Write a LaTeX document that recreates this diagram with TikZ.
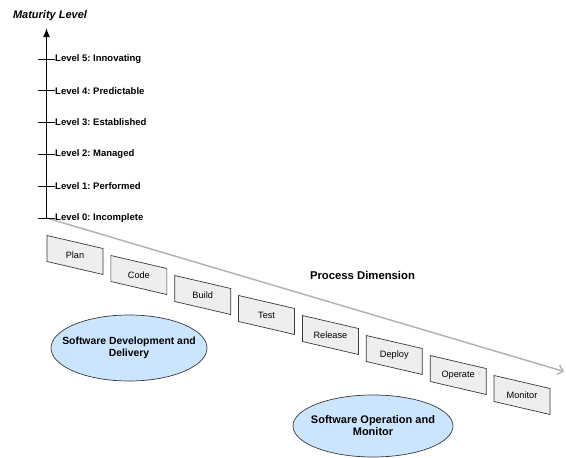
\documentclass[tikz,border=0pt]{standalone}
\usepackage{fontspec}
\setmainfont{Liberation Sans}
\usetikzlibrary{arrows.meta,calc,shapes.geometric}
\definecolor{boxfill}{HTML}{EEEEEE}
\definecolor{boxline}{HTML}{36393D}
\definecolor{blobfill}{HTML}{CCE5FF}
\definecolor{axisgray}{HTML}{B3B3B3}
\frenchspacing

\begin{document}
\begin{tikzpicture}[x=1pt, y=-1pt, >=Latex, font=\fontsize{9.5}{11}\selectfont\bfseries]
  \useasboundingbox (0,0) rectangle (566,458);
  \tikzset{
    stepbox/.style={fill=boxfill, draw=boxline, line width=0.7pt},
    steplabel/.style={font=\fontsize{9.2}{10}\selectfont, inner sep=0pt},
    blob/.style={ellipse, fill=blobfill, draw=boxline, line width=0.7pt, align=center,
      inner xsep=-12pt, inner ysep=0pt, minimum width=156pt, minimum height=66pt}
  }
  \coordinate (O) at (46.5,218);
  \coordinate (Ytop) at (46.5,28);
  \coordinate (Xend) at (564,371.5);

  % process dimension
  \draw[axisgray, line width=1.5pt, -{Straight Barb[length=5pt,width=10pt]}] (O) -- (Xend);
  % maturity axis
  \draw[line width=1.5pt, -{Latex[length=9pt,width=7pt]}] (O) -- (Ytop);

  \foreach \lvl/\txt in {0/Incomplete,1/Performed,2/Managed,3/Established,4/Predictable,5/Innovating} {
    \node[anchor=west, inner sep=0pt] (level\lvl) at (55,218-31.8*\lvl) {Level \lvl: \txt};
    \draw[line width=1pt] (level\lvl.west) -- ++(-17,0);
  }

  \node[font=\fontsize{11}{13}\selectfont\bfseries\itshape] (maturity) at (50,16) {Maturity Level};
  \node[font=\fontsize{11.3}{13}\selectfont\bfseries] (process) at (362.5,275.5) {Process Dimension};

  % process steps
  \foreach \name [count=\i from 0] in {Plan,Code,Build,Test,Release,Deploy,Operate,Monitor} {
    \coordinate (c\i) at ($(75,255)+\i*(63.86,20)$);
    \filldraw[stepbox] ($(c\i)+(-28,-19.5)$) -- ++(56,13) -- ++(0,26) -- ++(-56,-13) -- cycle;
    \node[steplabel] (step\i) at (c\i) {\name};
  }

  \node[blob, font=\fontsize{10.4}{12}\selectfont\bfseries] (dev) at (129,348) {Software Development and\\Delivery};
  \node[blob, font=\fontsize{11}{12}\selectfont\bfseries, minimum width=160pt, minimum height=62pt] (ops) at (373,426) {Software Operation and\\Monitor};
\end{tikzpicture}
\end{document}
